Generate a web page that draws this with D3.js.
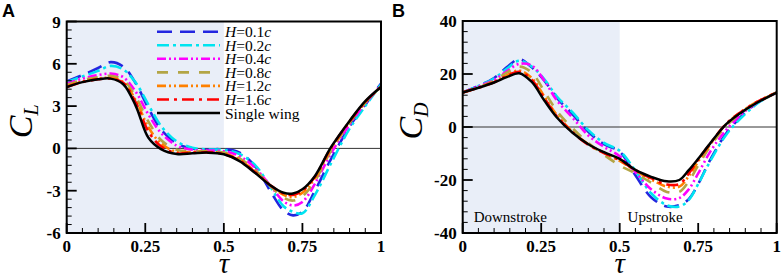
<!DOCTYPE html>
<html>
<head>
<meta charset="utf-8">
<script src="https://cdn.jsdelivr.net/npm/d3@7"></script>
<style>
  html, body { margin: 0; padding: 0; background: #fff; }
  svg { display: block; }
  text { font-family: "Liberation Serif", "Times New Roman", serif; }
</style>
</head>
<body>
<svg id="chart" width="782" height="280"></svg>
<script>
// Sample positions along the flapping period
const tau = [0, 0.05, 0.1, 0.14, 0.18, 0.22, 0.26, 0.3, 0.35, 0.4, 0.45, 0.5,
             0.55, 0.6, 0.65, 0.69, 0.72, 0.75, 0.79, 0.84, 0.9, 0.95, 1];

const seriesNames = ['H=0.1c', 'H=0.2c', 'H=0.4c', 'H=0.8c', 'H=1.2c', 'H=1.6c', 'Single wing'];

// Lift coefficient C_L (panel A)
const liftH01 = [4.75, 5.2, 5.7, 6.12, 5.8, 4.6, 2.85, 1.35, 0.35, 0.0, -0.1, -0.05, -0.3, -1.3, -3.1, -4.4, -4.75, -4.5, -3.0, -0.8, 1.55, 3.1, 4.6];
const liftH02 = [4.7, 5.1, 5.5, 5.85, 5.6, 4.65, 3.1, 1.6, 0.5, 0.05, -0.08, -0.1, -0.4, -1.2, -2.8, -4.1, -4.5, -4.6, -3.3, -1.1, 1.4, 3.0, 4.55];
const liftH04 = [4.6, 4.95, 5.2, 5.3, 5.05, 4.0, 2.4, 1.1, 0.2, -0.1, -0.15, -0.2, -0.55, -1.4, -2.7, -3.75, -4.05, -3.8, -2.5, -0.4, 1.7, 3.2, 4.45];
const liftH08 = [4.5, 4.85, 5.05, 5.15, 4.85, 3.65, 1.9, 0.6, -0.1, -0.2, -0.2, -0.3, -0.7, -1.55, -2.7, -3.5, -3.7, -3.4, -2.3, -0.2, 1.8, 3.25, 4.4];
const liftH12 = [4.4, 4.75, 4.95, 5.0, 4.7, 3.4, 1.5, 0.35, -0.25, -0.25, -0.25, -0.35, -0.8, -1.65, -2.65, -3.3, -3.45, -3.15, -2.1, -0.05, 1.9, 3.3, 4.35];
const liftH16 = [4.35, 4.7, 4.9, 4.95, 4.65, 3.25, 1.2, 0.15, -0.35, -0.3, -0.28, -0.4, -0.85, -1.7, -2.65, -3.2, -3.3, -3.0, -2.0, 0.0, 1.9, 3.3, 4.35];
const liftSingle = [4.35, 4.7, 4.9, 4.95, 4.55, 3.0, 0.75, -0.05, -0.4, -0.35, -0.3, -0.42, -0.9, -1.75, -2.65, -3.15, -3.2, -2.9, -1.95, 0.05, 1.95, 3.35, 4.35];

// Drag coefficient C_D (panel B)
const dragH01 = [13, 15.5, 18.5, 22.5, 25.6, 22.5, 17.5, 11, 4.8, -1.8, -6.5, -9.3, -18.2, -26.5, -30, -29.5, -27.2, -21.5, -12, -2.3, 5.5, 10, 13];
const dragH02 = [13, 15.5, 18.3, 22, 25, 22.8, 18, 11.5, 5.5, -1.2, -6, -9, -16.5, -25, -29.5, -30, -27.5, -21.5, -12.5, -2.8, 5, 9.8, 13];
const dragH04 = [13, 15.3, 17.8, 21, 23.8, 23.2, 17.5, 10, 3.5, -3.2, -7.5, -11, -17, -23.5, -27, -26.8, -23.5, -17.5, -9, -1, 6, 10, 13];
const dragH08 = [13, 15, 17.5, 20.5, 22.8, 20.5, 13.5, 6, -0.5, -6, -10.5, -14.5, -17.5, -21, -24.5, -24.5, -20.5, -14.5, -7, 0.5, 6.5, 10, 13];
const dragH12 = [13, 14.9, 17, 19.5, 21.3, 18.5, 11.5, 4.5, -1.8, -6.5, -9.8, -12.8, -16.5, -19.8, -22.5, -22.5, -18.5, -13, -6.3, 1.2, 6.8, 10.3, 13];
const dragH16 = [13, 14.8, 16.9, 19.2, 20.8, 17.8, 10.8, 4, -2, -6.7, -9.8, -12.5, -16.3, -19.3, -21.7, -21.5, -17.5, -12.3, -6, 1.3, 6.8, 10.2, 13];
const dragSingle = [13, 14.8, 16.8, 18.8, 20.3, 17, 10, 3.6, -2.2, -6.5, -9.5, -12, -16.2, -18.8, -20.5, -20, -16.3, -12, -5.9, 1.2, 6.5, 10, 13];

// Tick labels
const xTicks = [0, 0.25, 0.5, 0.75, 1];
const liftTicks = [-6, -3, 0, 3, 6, 9];
const dragTicks = [-40, -20, 0, 20, 40];

// Line styles
const lineColors = ['#2326e0', '#00e4f0', '#ff00ff', '#b3a545', '#ff8000', '#ff0000', '#000000'];
const lineDashes = ['15,8', '12,4,3,4', '9,3,2,3,2,3', '11,10', '9,3,2,3,2,3', '12,5,3,5', null];

const svg = d3.select('#chart');

function drawPanel(cfg) {
  const { left, right, top, bottom } = cfg;

  const x = d3.scaleLinear().domain([0, 1]).range([left, right]);
  const y = d3.scaleLinear().domain(cfg.yDomain).range([bottom, top]);

  // Downstroke shading
  svg.append('rect')
    .attr('x', x(0))
    .attr('y', top)
    .attr('width', x(0.5) - x(0))
    .attr('height', bottom - top)
    .attr('fill', '#e9eef8');

  // Zero line
  svg.append('line')
    .attr('x1', left).attr('x2', right)
    .attr('y1', y(0)).attr('y2', y(0))
    .attr('stroke', '#333')
    .attr('stroke-width', 1);

  // Curves
  const line = d3.line()
    .x((d, i) => x(tau[i]))
    .y(d => y(d))
    .curve(d3.curveCatmullRom.alpha(0.5));

  cfg.series.forEach((vals, i) => {
    svg.append('path')
      .datum(vals)
      .attr('fill', 'none')
      .attr('stroke', lineColors[i])
      .attr('stroke-width', i === 6 ? 2.5 : 2.6)
      .attr('stroke-dasharray', lineDashes[i])
      .attr('d', line);
  });

  // Ticks: inside, left and bottom
  const g = svg.append('g').attr('stroke', '#000');
  d3.range(0, 1.0001, 0.05).forEach(t => {
    const major = xTicks.some(v => Math.abs(v - t) < 1e-6);
    g.append('line')
      .attr('x1', x(t)).attr('x2', x(t))
      .attr('y1', bottom).attr('y2', bottom - (major ? 10 : 5))
      .attr('stroke-width', major ? 1.8 : 1);
  });
  const [y0, y1] = cfg.yDomain;
  for (let v = y0; v <= y1 + 1e-6; v += cfg.yMinor) {
    const major = cfg.yTicks.some(t => Math.abs(t - v) < 1e-6);
    g.append('line')
      .attr('x1', left).attr('x2', left + (major ? 10 : 5))
      .attr('y1', y(v)).attr('y2', y(v))
      .attr('stroke-width', major ? 1.8 : 1);
  }

  // Frame
  svg.append('rect')
    .attr('x', left).attr('y', top)
    .attr('width', right - left).attr('height', bottom - top)
    .attr('fill', 'none')
    .attr('stroke', '#000')
    .attr('stroke-width', 2);

  // Tick labels
  svg.selectAll(null)
    .data(xTicks)
    .enter()
    .append('text')
    .attr('x', d => x(d))
    .attr('y', 252)
    .attr('text-anchor', 'middle')
    .style('font-size', '17px')
    .style('font-weight', 'bold')
    .text(d => d);

  svg.selectAll(null)
    .data(cfg.yTicks)
    .enter()
    .append('text')
    .attr('x', left - 6)
    .attr('y', d => y(d) + 6)
    .attr('text-anchor', 'end')
    .style('font-size', '17px')
    .style('font-weight', 'bold')
    .text(d => d);

  // Axis titles
  const yt = svg.append('text')
    .attr('transform', `translate(${cfg.yLabelX},${(top + bottom) / 2 - 6}) rotate(-90)`)
    .attr('text-anchor', 'middle')
    .style('font-style', 'italic');
  yt.append('tspan').style('font-size', '34px').text('C');
  yt.append('tspan').style('font-size', '20px').attr('dy', 6).text(cfg.sub);

  svg.append('text')
    .attr('x', (left + right) / 2)
    .attr('y', 273)
    .attr('text-anchor', 'middle')
    .style('font-size', '29px')
    .style('font-style', 'italic')
    .text('τ');

  // Panel letter
  svg.append('text')
    .attr('x', cfg.letterX)
    .attr('y', 17)
    .style('font-family', '"Liberation Sans", Arial, sans-serif')
    .style('font-size', '18px')
    .style('font-weight', 'bold')
    .text(cfg.letter);

  return { x, y };
}

drawPanel({
  left: 66.7, right: 381, top: 21.5, bottom: 233,
  yDomain: [-6, 9], yTicks: liftTicks, yMinor: 0.6,
  series: [liftH01, liftH02, liftH04, liftH08, liftH12, liftH16, liftSingle],
  sub: 'L', yLabelX: 32, letter: 'A', letterX: 2
});

const pB = drawPanel({
  left: 462.7, right: 776.7, top: 21, bottom: 233,
  yDomain: [-40, 40], yTicks: dragTicks, yMinor: 4,
  series: [dragH01, dragH02, dragH04, dragH08, dragH12, dragH16, dragSingle],
  sub: 'D', yLabelX: 422, letter: 'B', letterX: 392
});

// Stroke annotations
svg.append('text')
  .attr('x', pB.x(0.035)).attr('y', 222)
  .style('font-size', '15px')
  .text('Downstroke');
svg.append('text')
  .attr('x', pB.x(0.525)).attr('y', 222)
  .style('font-size', '15px')
  .text('Upstroke');

// Legend (panel A)
const legend = svg.append('g');
seriesNames.forEach((name, i) => {
  const cy = 31.7 + i * 13.55;
  legend.append('line')
    .attr('x1', 157).attr('x2', 220)
    .attr('y1', cy).attr('y2', cy)
    .attr('stroke', lineColors[i])
    .attr('stroke-width', 2.6)
    .attr('stroke-dasharray', lineDashes[i]);
  const t = legend.append('text')
    .attr('x', 225).attr('y', cy + 5.5)
    .style('font-size', '15.5px');
  if (i < 6) {
    t.append('tspan').style('font-style', 'italic').text('H');
    t.append('tspan').text(name.slice(1, -1));
    t.append('tspan').style('font-style', 'italic').text('c');
  } else {
    t.text(name);
  }
});
</script>
</body>
</html>
